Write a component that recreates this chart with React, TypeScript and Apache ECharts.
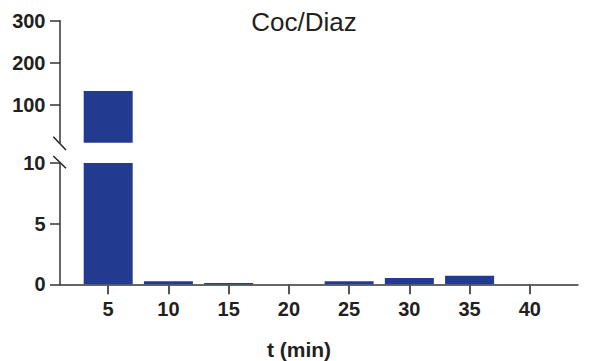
import React, { useEffect, useRef } from "react";
import * as echarts from "echarts";

const times = [5, 10, 15, 20, 25, 30, 35, 40];
const values = [133, 0.25, 0.1, 0, 0.25, 0.52, 0.71, 0];
const upperTicks = [100, 200, 300];
const lowerTicks = [0, 5, 10];
const titleText = "Coc/Diaz";
const xName = "t (min)";

const BAR = "#223A8F";
const INK = "#231F20";

export default function App() {
  const ref = useRef<HTMLDivElement>(null);
  useEffect(() => {
    document.body.style.margin = "0";
    const chart = echarts.init(ref.current!, null, { renderer: "svg" });
    const breakAt = 10;
    const lowerData = times.map((t, i) => [t, Math.min(values[i], breakAt)]);
    const upperData = times.map((t, i) => [t, values[i] > breakAt ? values[i] : "-"]);
    const labelStyle = {
      color: INK,
      fontFamily: "Liberation Sans, Arial, sans-serif",
      fontWeight: "bold" as const,
      fontSize: 20,
    };
    chart.setOption({
      animation: false,
      grid: [
        { left: 60, top: 20.7, width: 518, height: 122 },
        { left: 60, top: 163, width: 518, height: 121.3 },
      ],
      xAxis: [
        { type: "value", gridIndex: 0, min: 1, max: 44, show: false },
        {
          type: "value",
          gridIndex: 1,
          min: 1,
          max: 44,
          splitLine: { show: false },
          axisLine: { show: true, lineStyle: { color: "#333", width: 1.5 } },
          axisTick: {
            show: true,
            customValues: times,
            length: 10,
            lineStyle: { color: "#555", width: 2 },
          },
          axisLabel: { ...labelStyle, customValues: times, margin: 15 },
        },
      ],
      yAxis: [
        {
          type: "value",
          gridIndex: 0,
          min: 10,
          max: 300,
          splitLine: { show: false },
          axisLine: { show: true, lineStyle: { color: "#333", width: 1.5 } },
          axisTick: {
            show: true,
            customValues: upperTicks,
            length: 10,
            lineStyle: { color: "#333", width: 1.5 },
          },
          axisLabel: { ...labelStyle, customValues: upperTicks, margin: 14.5 },
        },
        {
          type: "value",
          gridIndex: 1,
          min: 0,
          max: 10,
          splitLine: { show: false },
          axisLine: { show: true, lineStyle: { color: "#333", width: 1.5 } },
          axisTick: {
            show: true,
            customValues: lowerTicks,
            length: 10,
            lineStyle: { color: "#333", width: 1.5 },
          },
          axisLabel: { ...labelStyle, customValues: lowerTicks, margin: 14.5 },
        },
      ],
      series: [
        {
          type: "bar",
          xAxisIndex: 0,
          yAxisIndex: 0,
          data: upperData,
          barWidth: 49,
          itemStyle: { color: BAR },
        },
        {
          type: "bar",
          xAxisIndex: 1,
          yAxisIndex: 1,
          data: lowerData,
          barWidth: 49,
          itemStyle: { color: BAR },
          z: 1,
        },
      ],
      graphic: [
        {
          type: "text",
          x: 304,
          y: 22,
          style: {
            text: titleText,
            fill: INK,
            font: "26px 'Liberation Sans', Arial, sans-serif",
            textAlign: "center",
            textVerticalAlign: "middle",
          },
        },
        {
          type: "text",
          x: 299,
          y: 349,
          style: {
            text: xName,
            fill: INK,
            font: "bold 21px 'Liberation Sans', Arial, sans-serif",
            textAlign: "center",
            textVerticalAlign: "middle",
          },
        },
        {
          type: "line",
          shape: { x1: 53.3, y1: 136.7, x2: 66, y2: 150 },
          style: { stroke: "#222", lineWidth: 1.5 },
        },
        {
          type: "line",
          shape: { x1: 53.3, y1: 156, x2: 66, y2: 168.3 },
          style: { stroke: "#222", lineWidth: 1.5 },
        },
      ],
    });
    return () => chart.dispose();
  }, []);
  return <div ref={ref} style={{ width: 591, height: 361 }} />;
}
